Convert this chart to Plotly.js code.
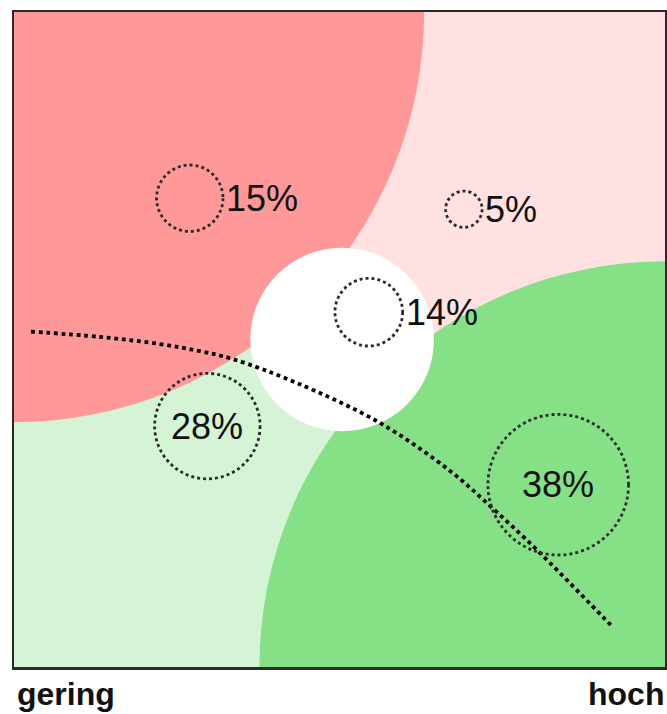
<!DOCTYPE html>
<html>
<head>
<meta charset="utf-8">
<script src="https://cdn.plot.ly/plotly-3.0.1.min.js"></script>
<style>html,body{margin:0;padding:0;background:#fff;}#chart{width:667px;height:714px;}</style>
</head>
<body>
<div id="chart"></div>
<script>
// Axis extents (x: gering -> hoch)
const xRange = [0, 100];
const yRange = [0, 100.6];
const axisLabels = ["gering", "hoch"];

// Background zones: quarter discs anchored in corners + central white disc
const zoneNames  = ["rot", "grün", "weiß"];
const zoneCX     = [0, 100, 50.4];
const zoneCY     = [100.6, 0, 50.3];
const zoneR      = [63.0, 62.3, 14.1];
const zoneColors = ["#FF9899", "#86E086", "#FFFFFF"];
const bgUpperRight = "#FFE1E2";
const bgLowerLeft  = "#D5F3D5";

// Segments (dotted bubbles) with share in %
const shares      = [15, 5, 14, 28, 38];
const bubbleX     = [27.0, 69.1, 54.5, 29.7, 83.6];
const bubbleY     = [72.0, 70.3, 54.5, 37.0, 28.0];
const bubbleR     = [5.1, 2.8, 5.2, 8.1, 10.8];
const labelInside = [false, false, false, true, true];

// Dotted dividing curve
const curveX = [2.6, 13.2, 22.4, 28.6, 33.6, 43.5, 56.2, 67.0, 73.6, 80.3, 92.0];
const curveY = [51.5, 50.7, 49.6, 48.5, 47.3, 43.6, 37.5, 30.1, 24.3, 18.0, 6.1];

const shapes = [];
// lower-left triangle (light green) below the diagonal
shapes.push({type: "path", xref: "x", yref: "y", layer: "below",
  path: `M ${xRange[0]},${yRange[1]} L ${xRange[0]},${yRange[0]} L ${xRange[1]},${yRange[0]} Z`,
  fillcolor: bgLowerLeft, line: {width: 0}});
zoneNames.forEach((n, i) => {
  shapes.push({type: "circle", xref: "x", yref: "y", layer: "below",
    x0: zoneCX[i] - zoneR[i], x1: zoneCX[i] + zoneR[i],
    y0: zoneCY[i] - zoneR[i], y1: zoneCY[i] + zoneR[i],
    fillcolor: zoneColors[i], line: {width: 0}});
});
shares.forEach((s, i) => {
  shapes.push({type: "circle", xref: "x", yref: "y", layer: "above",
    x0: bubbleX[i] - bubbleR[i], x1: bubbleX[i] + bubbleR[i],
    y0: bubbleY[i] - bubbleR[i], y1: bubbleY[i] + bubbleR[i],
    fillcolor: "rgba(0,0,0,0)", line: {color: "#2b2b2b", width: 2.8, dash: "dot"}});
});

const annotations = shares.map((s, i) => ({
  xref: "x", yref: "y",
  x: labelInside[i] ? bubbleX[i] : bubbleX[i] + bubbleR[i] + 0.3,
  y: bubbleY[i],
  xanchor: labelInside[i] ? "center" : "left", yanchor: "middle",
  text: s + "%", showarrow: false, borderpad: 0,
  font: {family: "Liberation Sans, Arial, sans-serif", size: 36, color: "#111111"}
}));
annotations.push({xref: "paper", yref: "paper", x: 0.003, y: -0.012, xanchor: "left", yanchor: "top",
  text: axisLabels[0], showarrow: false, borderpad: 0,
  font: {family: "Liberation Sans, Arial, sans-serif", size: 32, color: "#111111", weight: "bold"}});
annotations.push({xref: "paper", yref: "paper", x: 1.0, y: -0.012, xanchor: "right", yanchor: "top",
  text: axisLabels[1], showarrow: false, borderpad: 0,
  font: {family: "Liberation Sans, Arial, sans-serif", size: 32, color: "#111111", weight: "bold"}});

const traces = [{
  x: curveX, y: curveY, type: "scatter", mode: "lines",
  line: {color: "#000000", width: 3.8, dash: "dot", shape: "spline", smoothing: 1},
  hoverinfo: "skip", showlegend: false
}];

const layout = {
  width: 667, height: 714,
  margin: {l: 14, r: 2, t: 12, b: 47, pad: 0},
  paper_bgcolor: "#FFFFFF", plot_bgcolor: bgUpperRight,
  showlegend: false,
  xaxis: {range: xRange, showgrid: false, zeroline: false, showticklabels: false, ticks: "",
          showline: true, mirror: true, linecolor: "#2a2a2a", linewidth: 2.5, fixedrange: true},
  yaxis: {range: yRange, showgrid: false, zeroline: false, showticklabels: false, ticks: "",
          showline: true, mirror: true, linecolor: "#2a2a2a", linewidth: 2.5, fixedrange: true},
  shapes: shapes,
  annotations: annotations
};

Plotly.newPlot("chart", traces, layout, {displayModeBar: false, staticPlot: true});
</script>
</body>
</html>
